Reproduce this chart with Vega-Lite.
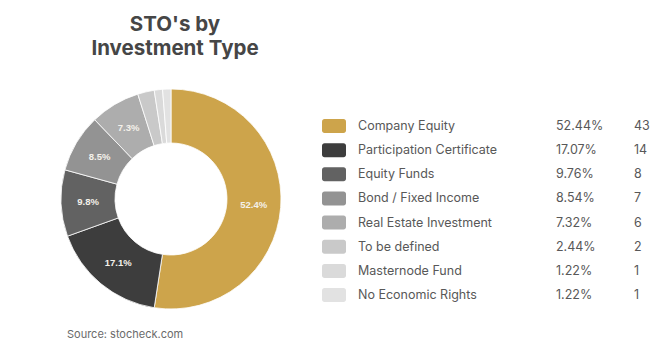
{
  "$schema": "https://vega.github.io/schema/vega-lite/v6.json",
  "background": "white",
  "padding": {"left": 21, "top": 14, "right": 0, "bottom": 0},
  "datasets": {
    "types": [
      {"rank": 1, "type": "Company Equity", "count": 43, "pct_label": "52.44%", "slice_label": "52.4%"},
      {"rank": 2, "type": "Participation Certificate", "count": 14, "pct_label": "17.07%", "slice_label": "17.1%"},
      {"rank": 3, "type": "Equity Funds", "count": 8, "pct_label": "9.76%", "slice_label": "9.8%"},
      {"rank": 4, "type": "Bond / Fixed Income", "count": 7, "pct_label": "8.54%", "slice_label": "8.5%"},
      {"rank": 5, "type": "Real Estate Investment", "count": 6, "pct_label": "7.32%", "slice_label": "7.3%"},
      {"rank": 6, "type": "To be defined", "count": 2, "pct_label": "2.44%", "slice_label": ""},
      {"rank": 7, "type": "Masternode Fund", "count": 1, "pct_label": "1.22%", "slice_label": ""},
      {"rank": 8, "type": "No Economic Rights", "count": 1, "pct_label": "1.22%", "slice_label": ""}
    ]
  },
  "title": {
    "text": ["STO's by", "Investment Type"],
    "anchor": "start",
    "align": "center",
    "dx": 154,
    "fontSize": 20.5,
    "lineHeight": 24,
    "font": "Inter",
    "fontWeight": "bold",
    "color": "#464646",
    "offset": 10
  },
  "config": {
    "view": {"stroke": null},
    "concat": {"spacing": 0},
    "font": "Inter"
  },
  "hconcat": [
    {
      "width": 300,
      "height": 260,
      "title": {
        "text": "Source: stocheck.com",
        "orient": "bottom",
        "anchor": "start",
        "dx": 46,
        "offset": 0,
        "fontSize": 11,
        "fontWeight": "normal",
        "font": "Inter",
        "color": "#6a6a6a"
      },
      "data": {"name": "types"},
      "encoding": {
        "theta": {"field": "count", "type": "quantitative", "stack": true},
        "order": {"field": "rank", "type": "quantitative", "sort": "ascending"}
      },
      "layer": [
        {
          "mark": {"type": "arc", "outerRadius": 110, "innerRadius": 56, "stroke": "white", "strokeWidth": 0.8},
          "encoding": {
            "color": {
              "field": "type",
              "type": "nominal",
              "sort": {"field": "rank"},
              "scale": {
                "domain": ["Company Equity", "Participation Certificate", "Equity Funds", "Bond / Fixed Income", "Real Estate Investment", "To be defined", "Masternode Fund", "No Economic Rights"],
                "range": ["#cda44b", "#3d3d3d", "#626262", "#939393", "#adadad", "#c9c9c9", "#dadada", "#e2e2e2"]
              },
              "legend": null
            }
          }
        },
        {
          "mark": {"type": "text", "radius": 83, "fontSize": 9.5, "fontWeight": "bold", "font": "Liberation Sans", "color": "#f4f1ea"},
          "encoding": {"text": {"field": "slice_label", "type": "nominal"}}
        }
      ]
    },
    {
      "width": 349,
      "height": 241.5,
      "data": {"name": "types"},
      "encoding": {
        "y": {
          "field": "type",
          "type": "nominal",
          "sort": {"field": "rank"},
          "axis": null,
          "scale": {"paddingInner": 0, "paddingOuter": 1, "align": 0.93}
        }
      },
      "layer": [
        {
          "mark": {"type": "rect", "height": {"band": 0.58}, "cornerRadius": 2.5},
          "encoding": {
            "x": {"datum": 1, "type": "quantitative", "scale": {"domain": [0, 349], "nice": false, "zero": false}, "axis": null},
            "x2": {"datum": 25},
            "color": {
              "field": "type",
              "type": "nominal",
              "scale": {
                "domain": ["Company Equity", "Participation Certificate", "Equity Funds", "Bond / Fixed Income", "Real Estate Investment", "To be defined", "Masternode Fund", "No Economic Rights"],
                "range": ["#cda44b", "#3d3d3d", "#626262", "#939393", "#adadad", "#c9c9c9", "#dadada", "#e2e2e2"]
              },
              "legend": null
            }
          }
        },
        {
          "mark": {"type": "text", "align": "left", "baseline": "middle", "fontSize": 12.5, "color": "#585858", "font": "Inter"},
          "encoding": {
            "x": {"datum": 37, "type": "quantitative"},
            "text": {"field": "type", "type": "nominal"}
          }
        },
        {
          "mark": {"type": "text", "align": "left", "baseline": "middle", "fontSize": 12.5, "color": "#585858", "font": "Inter"},
          "encoding": {
            "x": {"datum": 235, "type": "quantitative"},
            "text": {"field": "pct_label", "type": "nominal"}
          }
        },
        {
          "mark": {"type": "text", "align": "left", "baseline": "middle", "fontSize": 12.5, "color": "#585858", "font": "Inter"},
          "encoding": {
            "x": {"datum": 313, "type": "quantitative"},
            "text": {"field": "count", "type": "quantitative"}
          }
        }
      ]
    }
  ]
}
